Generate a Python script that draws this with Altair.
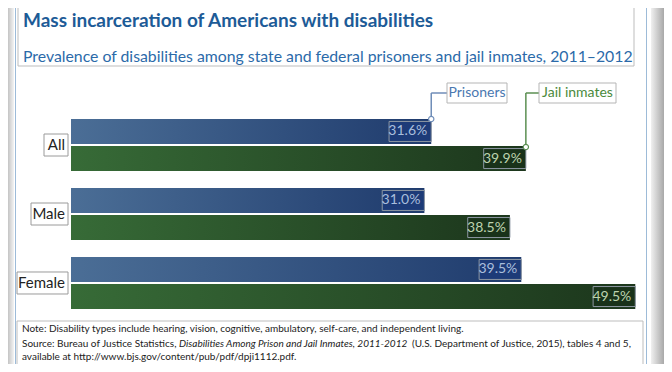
import altair as alt
import pandas as pd

groups = ["All", "Male", "Female"]
series = ["Prisoners", "Jail inmates"]
prisoners = [31.6, 31.0, 39.5]
jail = [39.9, 38.5, 49.5]

title = "Mass incarceration of Americans with disabilities"
subtitle = "Prevalence of disabilities among state and federal prisoners and jail inmates, 2011\u20132012"
note = "Note: Disability types include hearing, vision, cognitive, ambulatory, self-care, and independent living."
src1 = "Source: Bureau of Justice Statistics,"
src2 = "Disabilities Among Prison and Jail Inmates, 2011-2012"
src3 = "(U.S. Department of Justice, 2015), tables 4 and 5,"
src4 = "available at http://www.bjs.gov/content/pub/pdf/dpji1112.pdf."

rows = []
for g, p, j in zip(groups, prisoners, jail):
    rows.append({"group": g, "series": "Prisoners", "value": p})
    rows.append({"group": g, "series": "Jail inmates", "value": j})
df = pd.DataFrame(rows)
one = pd.DataFrame({"a": [0]})

FONT = "Lato"
W, H = 656, 356

xs = alt.Scale(domain=[0, 50], range=[63, 633])
ys = alt.Scale(domain=groups, range=[111, 301], paddingInner=0.246, paddingOuter=0)
yos = alt.Scale(domain=series, paddingInner=0.08, paddingOuter=0)

X = alt.X("value:Q", scale=xs, axis=None)
Y = alt.Y("group:N", scale=ys, axis=None, sort=groups)
YO = alt.YOffset("series:N", scale=yos, sort=series)

def grad(c0, c1):
    return alt.Gradient(gradient="linear",
                        stops=[alt.GradientStop(color=c0, offset=0),
                               alt.GradientStop(color=c1, offset=1)],
                        x1=0, x2=1, y1=0, y2=0)

def vrect(x, x2, y, y2, **kw):
    return alt.Chart(one).mark_rect(**kw).encode(
        x=alt.value(x), x2=alt.value(x2), y=alt.value(y), y2=alt.value(y2))

def vtext(txt, x, y, **kw):
    return alt.Chart(one).mark_text(text=txt, font=FONT, **kw).encode(
        x=alt.value(x), y=alt.value(y))

base = alt.Chart(df)

# frame & decorations
left_shadow = vrect(0, 6, 0, H, color=grad("#c4c4c4", "#f4f4f4"))
right_shadow = vrect(643, W, 0, H, color=grad("#f0f0f0", "#a8a8a8"))
frame_l = vrect(7, 8, 0, H, color="#9dbbd8")
frame_r = vrect(638, 639, 0, H, color="#9dbbd8")
title_box = vrect(10, 626, -5, 58, fill="white", stroke="#bdbdbd", strokeWidth=1)
foot_box = vrect(9, 635, 313, 366, fill="white", stroke="#bdbdbd", strokeWidth=1)

t_title = vtext(title, 15, 13, align="left", baseline="middle", fontSize=19,
                fontWeight="bold", color="#1d5b97")
t_sub = vtext(subtitle, 15, 49, align="left", baseline="middle", fontSize=15.8,
              color="#2b6aa9")

FS = 10
f_note = vtext(note, 14, 321, align="left", baseline="middle", fontSize=FS, color="#222222")
f_s1 = vtext(src1, 14, 335.5, align="left", baseline="middle", fontSize=FS, color="#222222")
f_s2 = vtext(src2, 171, 335.5, align="left", baseline="middle", fontSize=FS,
             fontStyle="italic", color="#222222")
f_s3 = vtext(src3, 404, 335.5, align="left", baseline="middle", fontSize=FS, color="#222222")
f_s4 = vtext(src4, 14, 349, align="left", baseline="middle", fontSize=FS, color="#222222")

# bars
bar_p = base.transform_filter(alt.datum.series == "Prisoners").mark_bar(
    color=grad("#4b6e96", "#1f3b6d")).encode(x=X, y=Y, yOffset=YO)
bar_j = base.transform_filter(alt.datum.series == "Jail inmates").mark_bar(
    color=grad("#376b37", "#1c361c")).encode(x=X, y=Y, yOffset=YO)

vbox = base.transform_calculate(lo="datum.value - 3.7").mark_bar(
    height=20, stroke="#8d97a3", strokeWidth=1).encode(
    x=alt.X("lo:Q", scale=xs, axis=None), x2="value:Q", y=Y, yOffset=YO,
    color=alt.Color("series:N", scale=alt.Scale(domain=series, range=["#1d3b78", "#19321a"]),
                    legend=None))
vtxt = base.transform_calculate(lbl="format(datum.value, '.1f') + '%'").mark_text(
    align="right", baseline="middle", dx=-4, fontSize=14, font=FONT).encode(
    x=X, y=Y, yOffset=YO, text="lbl:N",
    color=alt.Color("series:N", scale=alt.Scale(domain=series, range=["#a9bedc", "#bdd3ae"]),
                    legend=None))

# group labels with boxes
gdf = pd.DataFrame({"group": groups})
gbox = alt.Chart(gdf).transform_calculate(
    bx="60 - (datum.group == 'All' ? 24 : datum.group == 'Male' ? 37 : 51)",
    bx2="60").mark_bar(
    height=22, fill="white", stroke="#9a9a9a", strokeWidth=1).encode(
    x=alt.X("bx:Q", scale=None, axis=None), x2="bx2:Q", y=Y)
gtxt = alt.Chart(gdf).mark_text(align="right", baseline="middle", fontSize=15,
                                font=FONT, color="#222222").encode(
    x=alt.value(57), y=Y, text="group:N")

# legend callouts
def callout(ser, ytop, boxx, col):
    d = base.transform_filter((alt.datum.group == "All") & (alt.datum.series == ser))
    v = d.mark_rule(color=col, strokeWidth=1.5).encode(
        x=X, y=alt.value(85), y2=alt.value(ytop))
    h = d.mark_rule(color=col, strokeWidth=1.5).encode(
        x=X, x2=alt.value(boxx), y=alt.value(85))
    c = d.mark_circle(color="white", stroke=col, strokeWidth=1.2, size=28, opacity=1).encode(
        x=X, y=alt.value(ytop))
    return [v, h, c]

co_p = callout("Prisoners", 111, 439, "#6f8db8")
co_j = callout("Jail inmates", 139, 531, "#5b8f52")
lb_p = vrect(439, 499, 75, 95, fill="white", stroke="#b5b5b5", strokeWidth=1)
lb_j = vrect(531, 608, 75, 95, fill="white", stroke="#b5b5b5", strokeWidth=1)
lt_p = vtext("Prisoners", 469, 85, align="center", baseline="middle", fontSize=14, color="#4a78b0")
lt_j = vtext("Jail inmates", 569.5, 85, align="center", baseline="middle", fontSize=14, color="#4b8a3c")

chart = alt.layer(
    left_shadow, right_shadow, frame_l, frame_r, title_box, foot_box,
    t_title, t_sub, f_note, f_s1, f_s2, f_s3, f_s4,
    bar_p, bar_j, vbox, vtxt, gbox, gtxt,
    *co_p, *co_j, lb_p, lb_j, lt_p, lt_j,
).resolve_scale(x="independent", color="independent").properties(
    width=W, height=H, autosize=alt.AutoSizeParams(type="none"), padding=0,
    background="white",
).configure_view(stroke=None)

chart.save("out.html", embed_options={"renderer": "svg", "actions": False})
